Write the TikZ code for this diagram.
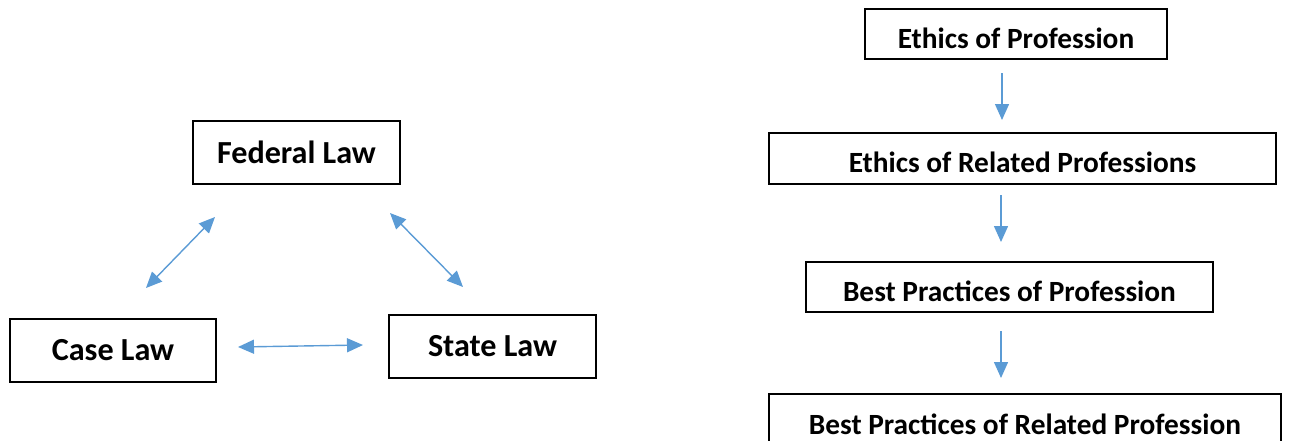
\documentclass[tikz,border=0pt]{standalone}
\usepackage{fontspec}
\setmainfont{Carlito}
\usepackage{tikz}
\usetikzlibrary{arrows.meta}

\definecolor{linkblue}{HTML}{5B9BD5}

\tikzset{
	lawbox/.style={draw=black, line width=0.04cm, inner sep=0pt, font=\fontsize{18.3}{22}\selectfont\bfseries},
	srcbox/.style={lawbox, text height=0.68cm, text depth=0.12cm, font=\fontsize{16.7}{20}\selectfont\bfseries},
	link/.style={linkblue, line width=0.028cm, {Triangle[length=0.32cm,width=0.28cm]}-{Triangle[length=0.32cm,width=0.28cm]}},
	flow/.style={linkblue, line width=0.028cm, -{Triangle[length=0.32cm,width=0.28cm]}}
}

\begin{document}
\begin{tikzpicture}[x=0.02cm, y=-0.02cm]
	\useasboundingbox (0,0) rectangle (1291,440);

	% the three kinds of law
	\node (fed) [lawbox, minimum width=4.14cm, minimum height=1.26cm] at (296.5,152.5) {Federal Law};
	\node (case) [lawbox, minimum width=4.12cm, minimum height=1.26cm] at (113,350.5) {Case Law};
	\node (state) [lawbox, minimum width=4.14cm, minimum height=1.26cm] at (492.5,346.5) {State Law};

	\coordinate (fc1) at (215,217);
	\coordinate (fc2) at (146,288);
	\coordinate (fs1) at (390,213);
	\coordinate (fs2) at (463,287);
	\coordinate (cs1) at (238,347);
	\coordinate (cs2) at (363,345);
	\draw[link] (fc1) -- (fc2);
	\draw[link] (fs1) -- (fs2);
	\draw[link] (cs1) -- (cs2);

	% the order of the sources
	\node (eprof) [srcbox, minimum width=6.04cm, minimum height=1.0cm] at (1016,34) {Ethics of Profession};
	\node (erel) [srcbox, minimum width=10.14cm, minimum height=1.02cm] at (1022.5,158.5) {Ethics of Related Professions};
	\node (bpprof) [srcbox, minimum width=8.14cm, minimum height=1.0cm] at (1009.5,287) {Best Practices of Profession};
	\node (bprel) [srcbox, minimum width=10.24cm, minimum height=1.04cm] at (1025,420) {Best Practices of Related Profession};

	\coordinate (d1) at (1002,73);
	\coordinate (d2) at (1002,120);
	\coordinate (d3) at (1001,195);
	\coordinate (d4) at (1001,242);
	\coordinate (d5) at (1001,331);
	\coordinate (d6) at (1001,378);
	\draw[flow] (d1) -- (d2);
	\draw[flow] (d3) -- (d4);
	\draw[flow] (d5) -- (d6);
\end{tikzpicture}
\end{document}
